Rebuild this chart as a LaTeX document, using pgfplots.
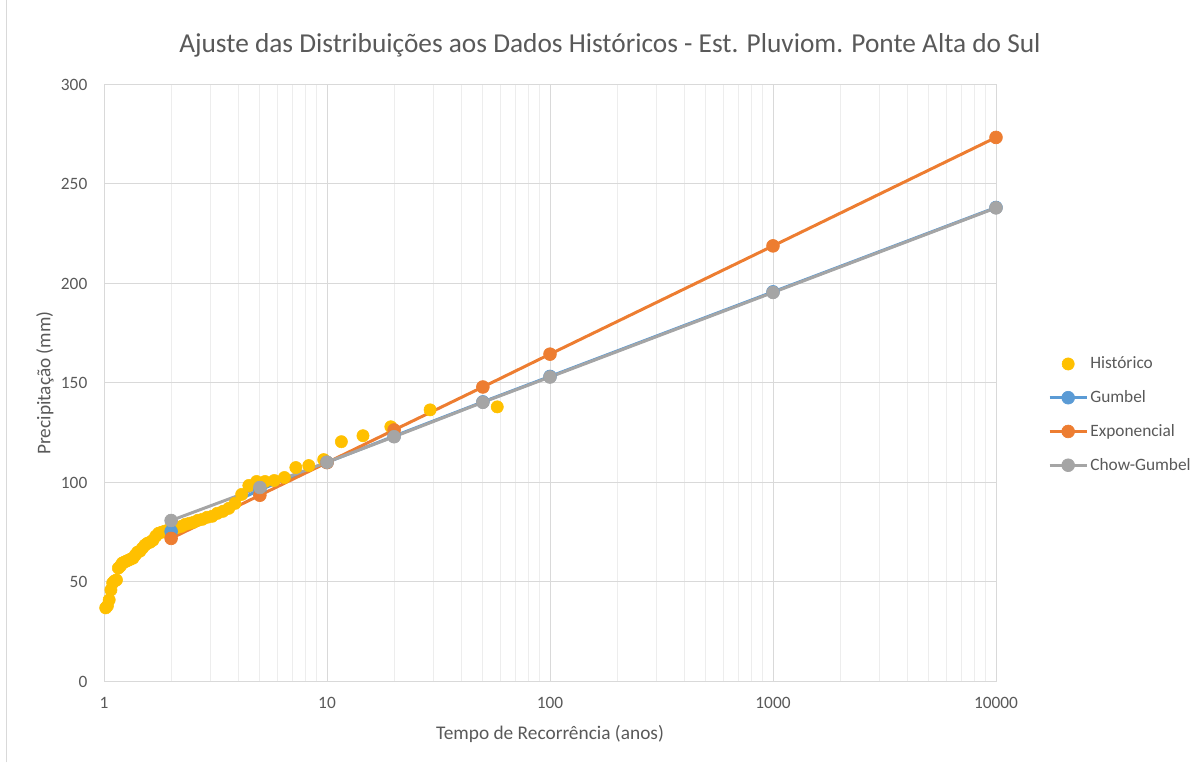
\documentclass[border=0pt]{standalone}
\usepackage{pgfplots}
\pgfplotsset{compat=1.18}
\usepackage{fontspec}
\setmainfont{Carlito}
\definecolor{txt}{HTML}{595959}
\definecolor{hist}{HTML}{FFC000}
\definecolor{gum}{HTML}{5B9BD5}
\definecolor{expo}{HTML}{ED7D31}
\definecolor{chow}{HTML}{A5A5A5}
\definecolor{gmaj}{HTML}{D9D9D9}
\definecolor{gmin}{HTML}{EDEDED}
\pgfplotsset{mylegend/.style={legend image code/.code={\draw[mark repeat=2,mark phase=2,##1] plot coordinates {(0pt,0pt)(14pt,0pt)(28pt,0pt)};}}}
\begin{document}
\begin{tikzpicture}[x=1pt,y=1pt]
\path (0,0) rectangle (901.5,571.5);
\draw[gmaj, line width=0.75pt] (4.5,0) -- (4.5,571.5);
\begin{axis}[
  at={(78pt,60.75pt)}, anchor=south west,
  scale only axis, width=669pt, height=447.75pt,
  xmode=log, log basis x=10,
  xmin=1, xmax=10000, ymin=0, ymax=300,
  xtick={1,10,100,1000,10000},
  xticklabels={1,10,100,1000,10000},
  minor xtick={2,3,4,5,6,7,8,9,20,30,40,50,60,70,80,90,200,300,400,500,600,700,800,900,2000,3000,4000,5000,6000,7000,8000,9000},
  ytick={0,50,...,300},
  xmajorgrids, xminorgrids, ymajorgrids,
  major grid style={gmaj, line width=0.75pt},
  minor grid style={gmin, line width=0.75pt},
  axis line style={gmaj, line width=0.75pt},
  major tick length=0pt, minor tick length=0pt,
  tick style={draw=none},
  /pgf/number format/assume math mode=true,
  ticklabel style={font=\fontsize{13}{15}\selectfont, text=txt},
  xticklabel style={yshift=-8pt},
  yticklabel style={xshift=-9pt},
  legend style={at={(1.058,0.447)}, anchor=west, draw=none, fill=none,
    font=\fontsize{13}{15}\selectfont, text=txt, row sep=11.8pt,
    inner sep=0pt, nodes={inner sep=1.5pt}},
  legend cell align=left,
]
\addplot[only marks, mark=*, mark size=4.6pt, color=hist, mark options={draw=hist, fill=hist, line width=0.4pt}, mylegend]
  table {
T P
58.000 138
29.000 136.5
19.333 128
14.500 123.5
11.600 120.5
9.667 111.5
8.286 108.5
7.250 107.5
6.444 102.5
5.800 101
5.273 100.5
4.833 100.5
4.462 98.5
4.143 94
3.867 89.5
3.625 87
3.412 85.5
3.222 84.5
3.053 83
2.900 82.5
2.762 81.5
2.636 81
2.522 80
2.417 79.5
2.320 79
2.231 78
2.148 77.5
2.071 77
2.000 76.5
1.933 76
1.871 75.5
1.813 75
1.758 74.5
1.706 73
1.657 71
1.611 70
1.568 69.5
1.526 68.5
1.487 67
1.450 65.5
1.415 65
1.381 63.5
1.349 62
1.318 61.5
1.289 61
1.261 60.5
1.234 60
1.208 59.5
1.184 58
1.160 57
1.137 51
1.115 50.5
1.094 49.5
1.074 46
1.055 41
1.036 38
1.018 37
};
\addlegendentry{Histórico}
\addplot[color=gum, line width=2.25pt, mark=*, mark size=4.8pt, mark options={fill=gum, draw=gum, line width=0.5pt}, mylegend]
  coordinates {(2,75.4) (5,96.3) (10,110.1) (20,123.3) (50,140.5) (100,153.3) (1000,195.8) (10000,238.2)};
\addlegendentry{Gumbel}
\addplot[color=expo, line width=2.25pt, mark=*, mark size=4.8pt, mark options={fill=expo, draw=expo, line width=0.5pt}, mylegend]
  coordinates {(2,71.9) (5,93.6) (10,110.0) (20,126.4) (50,148.0) (100,164.5) (1000,218.9) (10000,273.4)};
\addlegendentry{Exponencial}
\addplot[color=chow, line width=2.25pt, mark=*, mark size=4.8pt, mark options={fill=chow, draw=chow, line width=0.5pt}, mylegend]
  coordinates {(2,80.9) (5,97.5) (10,110.2) (20,123.0) (50,140.3) (100,153.0) (1000,195.5) (10000,238.0)};
\addlegendentry{Chow-Gumbel}
\end{axis}
\node[text=txt, font=\fontsize{20.5}{24}\selectfont] at (457.5,537.75) {Ajuste das Distribuições aos Dados Históricos - Est. Pluviom. Ponte Alta do Sul};
\node[text=txt, font=\fontsize{14.5}{17}\selectfont] at (412.5,21.75) {Tempo de Recorrência (anos)};
\node[text=txt, font=\fontsize{14.5}{17}\selectfont, rotate=90] at (33.75,284.6) {Precipitação (mm)};
\end{tikzpicture}
\end{document}
